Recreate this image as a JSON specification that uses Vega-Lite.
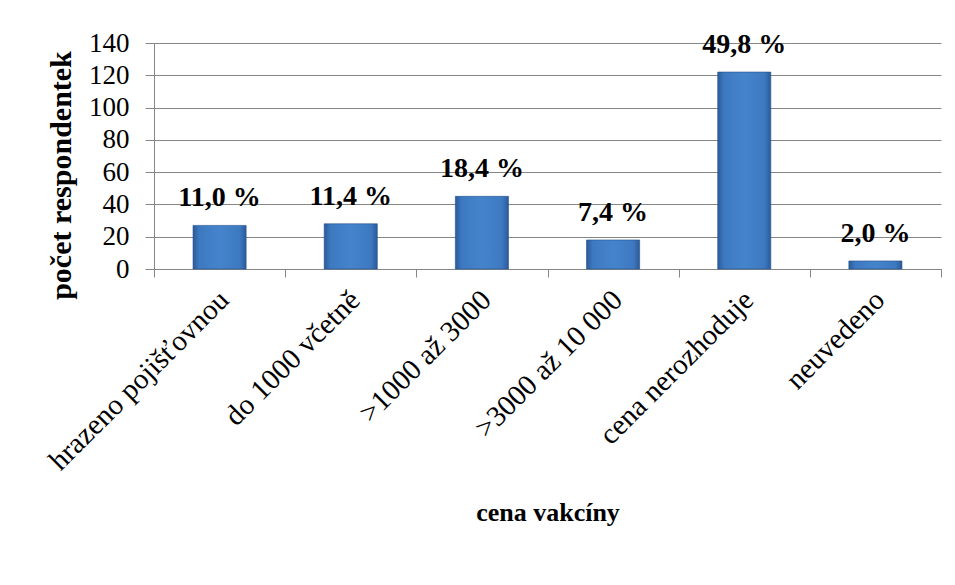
{
  "$schema": "https://vega.github.io/schema/vega-lite/v6.json",
  "width": 787,
  "height": 226,
  "autosize": {"type": "none"},
  "padding": {"left": 154, "top": 43, "right": 14, "bottom": 316},
  "background": "white",
  "config": {
    "view": {"stroke": null},
    "font": "Liberation Serif",
    "axis": {
      "labelFont": "Liberation Serif",
      "titleFont": "Liberation Serif",
      "labelColor": "black",
      "titleColor": "black",
      "domainColor": "#868686",
      "tickColor": "#868686",
      "gridColor": "#868686",
      "domainWidth": 1,
      "tickWidth": 1,
      "gridWidth": 1
    }
  },
  "data": {
    "values": [
      {"kategorie": "hrazeno pojišťovnou", "pocet": 27, "podil": "11,0 %"},
      {"kategorie": "do 1000 včetně", "pocet": 28, "podil": "11,4 %"},
      {"kategorie": ">1000 až 3000", "pocet": 45, "podil": "18,4 %"},
      {"kategorie": ">3000 až 10 000", "pocet": 18, "podil": "7,4 %"},
      {"kategorie": "cena nerozhoduje", "pocet": 122, "podil": "49,8 %"},
      {"kategorie": "neuvedeno", "pocet": 5, "podil": "2,0 %"}
    ]
  },
  "encoding": {
    "x": {
      "field": "kategorie",
      "type": "nominal",
      "sort": null,
      "scale": {"paddingInner": 0, "paddingOuter": 0},
      "axis": {
        "title": "cena vakcíny",
        "titleFontSize": 26,
        "titleFontWeight": "bold",
        "titleX": 393.5,
        "titleY": 243,
        "titleAlign": "center",
        "titleBaseline": "middle",
        "labelAngle": -45,
        "labelAlign": "right",
        "labelBaseline": "middle",
        "labelFontSize": 29,
        "labelLimit": 0,
        "labelPadding": 18,
        "labelOffset": 4,
        "tickBand": "extent",
        "tickSize": 8,
        "grid": false
      }
    },
    "y": {
      "field": "pocet",
      "type": "quantitative",
      "scale": {"domain": [0, 140]},
      "axis": {
        "title": "počet respondentek",
        "titleFontSize": 30,
        "titleFontWeight": "bold",
        "titlePadding": 12,
        "titleY": 132,
        "titleAlign": "center",
        "values": [0, 20, 40, 60, 80, 100, 120, 140],
        "labelFontSize": 27,
        "labelPadding": 16,
        "tickSize": 9,
        "grid": true
      }
    }
  },
  "layer": [
    {
      "mark": {
        "type": "bar",
        "width": {"band": 0.405},
        "stroke": "#24508a",
        "strokeWidth": 0.6,
        "fill": {
          "gradient": "linear",
          "x1": 0, "y1": 0, "x2": 1, "y2": 0,
          "stops": [
            {"offset": 0, "color": "#2b5a99"},
            {"offset": 0.12, "color": "#3d79c1"},
            {"offset": 0.5, "color": "#4584cc"},
            {"offset": 0.88, "color": "#3d79c1"},
            {"offset": 1, "color": "#2b5a99"}
          ]
        }
      }
    },
    {
      "mark": {
        "type": "text",
        "font": "Liberation Serif",
        "fontSize": 28,
        "fontWeight": "bold",
        "color": "black",
        "baseline": "alphabetic",
        "dy": -19
      },
      "encoding": {
        "text": {"field": "podil", "type": "nominal"}
      }
    }
  ]
}
